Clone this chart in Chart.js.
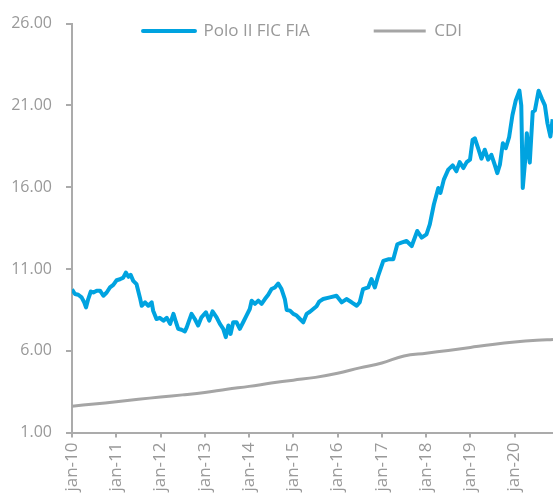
<!DOCTYPE html>
<html>
<head>
<meta charset="utf-8">
<script src="https://cdn.jsdelivr.net/npm/chart.js@4.4.1/dist/chart.umd.min.js"></script>
<style>
  html, body { margin: 0; padding: 0; background: #fff; overflow: hidden; }
  #wrap { width: 553px; height: 495px; }
</style>
</head>
<body>
<div id="wrap"><canvas id="chart"></canvas></div>
<script>
// x values are months counted from jan-10
const yearLabels = ['jan-10', 'jan-11', 'jan-12', 'jan-13', 'jan-14', 'jan-15',
                    'jan-16', 'jan-17', 'jan-18', 'jan-19', 'jan-20'];

const poloMonths = [
  0, 0.8, 1.7, 2.6, 3.3, 3.8, 4.4, 5.1, 5.8, 6.7, 7.6, 8.5, 9.4, 10.3, 11.2,
  12.1, 13.0, 13.9, 14.6, 15.3, 15.9, 16.6, 17.5, 18.4, 18.9, 19.8, 20.7, 21.6, 22.0, 22.9,
  23.8, 24.8, 25.7, 26.6, 27.5, 28.2, 28.8, 29.7, 30.6, 31.1, 31.6, 32.4, 33.3, 34.2, 35.1,
  36.3, 37.2, 38.1, 39.2, 40.1, 41.0, 41.7, 42.4, 43.0, 43.7, 44.6, 45.5, 46.4, 47.3,
  48.2, 48.7, 49.6, 50.5, 51.4, 52.3, 53.2, 54.1, 55.0, 55.9, 56.8, 57.7, 58.2, 59.1,
  60.0, 60.9, 61.8, 62.7, 63.6, 64.5, 65.4, 66.3, 67.0, 68.1, 69.9, 71.7, 73.1, 74.4,
  75.8, 77.2, 78.0, 78.9, 80.3, 81.2, 82.1, 83.0, 84.4, 85.7, 87.1, 88.2, 89.3, 90.7,
  92.1, 93.6, 94.8, 96.1, 97.0, 98.1, 99.3, 99.9, 100.8, 102.0, 103.2, 104.2, 105.1,
  106.1, 107.0, 107.9, 108.6, 109.2, 110.1, 111.0, 111.9, 112.8, 113.7, 114.6, 115.3,
  116.0, 116.8, 117.6, 118.5, 119.4, 120.3, 121.3, 121.8, 122.2, 123.0, 123.3, 124.1,
  124.9, 125.5, 126.5, 127.4, 128.2, 128.9, 129.7, 130.3
];
const poloValues = [
  9.75, 9.47, 9.42, 9.26, 8.96, 8.65, 9.16, 9.62, 9.56, 9.67, 9.67, 9.36, 9.56, 9.87, 10.03,
  10.31, 10.37, 10.47, 10.78, 10.52, 10.64, 10.27, 10.07, 9.26, 8.75, 8.96, 8.75, 8.96, 8.45, 7.94,
  8.01, 7.84, 8.01, 7.64, 8.25, 7.74, 7.34, 7.28, 7.18, 7.43, 7.75, 8.25, 7.94, 7.54, 8.04,
  8.35, 7.84, 8.41, 8.04, 7.64, 7.34, 6.83, 7.54, 7.03, 7.74, 7.74, 7.34, 7.74, 8.15,
  8.55, 9.06, 8.86, 9.06, 8.86, 9.16, 9.42, 9.77, 9.87, 10.11, 9.77, 9.16, 8.49, 8.45,
  8.25, 8.15, 7.94, 7.74, 8.25, 8.38, 8.55, 8.72, 9.00, 9.16, 9.26, 9.36, 8.96, 9.16,
  8.96, 8.75, 8.96, 9.77, 9.87, 10.38, 9.87, 10.58, 11.49, 11.59, 11.59, 12.51, 12.61, 12.71,
  12.40, 13.32, 12.91, 13.11, 13.72, 14.94, 15.95, 15.65, 16.46, 17.07, 17.33, 16.97, 17.53,
  17.17, 17.53, 17.68, 18.89, 18.99, 18.38, 17.74, 18.29, 17.68, 17.98, 17.37, 16.86,
  17.37, 18.69, 18.38, 19.05, 20.40, 21.30, 21.90, 21.00, 15.95, 18.00, 19.30, 17.50,
  20.60, 20.70, 21.90, 21.40, 21.00, 19.90, 19.10, 20.15
];

const cdiMonths = [0, 6, 12, 18, 24, 30, 36, 42, 48, 54, 60, 66, 72, 78, 84, 90, 96, 102, 108, 114, 120, 126, 130.4];
const cdiValues = [2.61, 2.74, 2.88, 3.03, 3.17, 3.30, 3.45, 3.65, 3.82, 4.02, 4.20, 4.37, 4.62, 4.95, 5.25, 5.68, 5.85, 6.02, 6.20, 6.38, 6.53, 6.64, 6.69];

const blue = '#00A3E0';
const gray = '#A5A5A5';
const axisColor = '#ABABAB';
const textColor = '#999999';
const fontFamily = "'Open Sans', 'Noto Sans', sans-serif";

// legend sits inside the plot area, so move it after layout
const legendShift = {
  id: 'legendShift',
  afterLayout(chart) {
    const lg = chart.legend;
    const pad = lg.options.labels.padding;
    const fs = lg.options.labels.font.size;
    lg.left = 143 - pad;
    lg.right = 553;
    lg.top = 31 - pad - fs / 2;
    lg.bottom = 60;
    lg.width = lg.right - lg.left;
    lg.height = lg.bottom - lg.top;
  }
};

const ctx = document.getElementById('chart').getContext('2d');
const chart = new Chart(ctx, {
  type: 'line',
  data: {
    datasets: [
      {
        label: 'Polo II FIC FIA',
        data: poloMonths.map((m, i) => ({ x: m, y: poloValues[i] })),
        borderColor: blue,
        backgroundColor: blue,
        borderWidth: 4,
        borderJoinStyle: 'round',
        pointRadius: 0,
        fill: false,
        tension: 0
      },
      {
        label: 'CDI',
        data: cdiMonths.map((m, i) => ({ x: m, y: cdiValues[i] })),
        borderColor: gray,
        backgroundColor: gray,
        borderWidth: 3,
        pointRadius: 0,
        fill: false,
        tension: 0.4
      }
    ]
  },
  options: {
    responsive: true,
    maintainAspectRatio: false,
    animation: false,
    layout: { padding: { top: 20.7, left: 0, right: 0, bottom: 0 } },
    plugins: {
      tooltip: { enabled: false },
      legend: {
        position: 'top',
        align: 'start',
        maxHeight: 1,
        labels: {
          boxWidth: 52,
          boxHeight: 0,
          padding: 64,
          color: textColor,
          font: { family: fontFamily, size: 17 }
        }
      }
    },
    scales: {
      x: {
        type: 'linear',
        min: 0,
        max: 130.4,
        afterFit(s) { s.height = 62.5; },
        border: { display: true, color: axisColor, width: 2 },
        grid: { drawOnChartArea: false, drawTicks: true, tickLength: 5, color: axisColor, lineWidth: 2 },
        ticks: {
          stepSize: 12,
          autoSkip: false,
          includeBounds: false,
          minRotation: 90,
          maxRotation: 90,
          padding: 5,
          color: textColor,
          font: { family: fontFamily, size: 17 },
          callback: v => (v % 12 === 0 ? yearLabels[v / 12] : null)
        }
      },
      y: {
        min: 1,
        max: 26,
        afterFit(s) { s.width = 72; },
        border: { display: true, color: axisColor, width: 2 },
        grid: { drawOnChartArea: false, drawTicks: true, tickLength: 6, color: axisColor, lineWidth: 2 },
        ticks: {
          stepSize: 5,
          padding: 14,
          color: textColor,
          font: { family: fontFamily, size: 16 },
          callback: v => v.toFixed(2)
        }
      }
    }
  },
  plugins: [legendShift]
});
</script>
</body>
</html>
